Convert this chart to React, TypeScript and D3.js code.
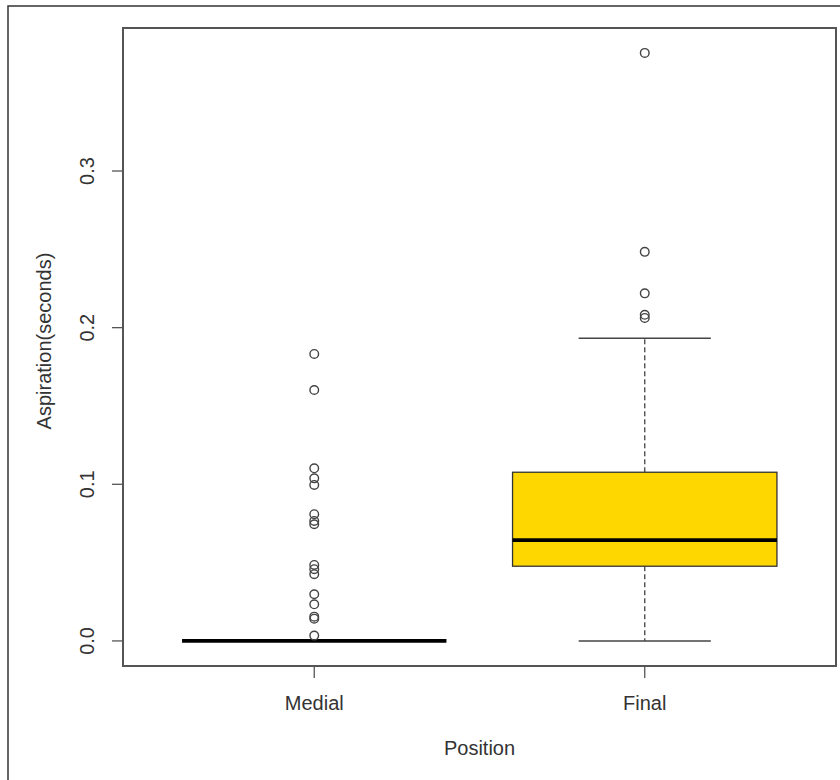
import React from "react";
import * as d3 from "d3";

// values
const categories = ["Medial", "Final"];
const lowerWhisker = [0, 0];
const q1 = [0, 0.0477];
const medians = [0, 0.0643];
const q3 = [0, 0.1077];
const upperWhisker = [0, 0.1932];
const medialOutliers = [
  0.1832, 0.1602, 0.1102, 0.1038, 0.0996, 0.0809, 0.0766, 0.0745, 0.0485,
  0.0458, 0.0426, 0.0298, 0.0234, 0.0155, 0.0142, 0.0034,
];
const finalOutliers = [0.3754, 0.2484, 0.2219, 0.2082, 0.2062];
const yTicks = [0, 0.1, 0.2, 0.3];

const W = 840,
  H = 780;
const plot = { left: 123, top: 28, right: 836, bottom: 666 };
const font = "'Liberation Sans', Arial, sans-serif";
const textColor = "#333";

export default function App() {
  const x = d3
    .scaleBand()
    .domain(categories)
    .range([149, 810])
    .paddingInner(0)
    .paddingOuter(0);
  const y = d3.scaleLinear().domain([-0.016, 0.3913]).range([plot.bottom, plot.top]);

  const half = x.bandwidth() * 0.4;
  const outliers = [medialOutliers, finalOutliers];

  return (
    <svg
      width={W}
      height={H}
      style={{ position: "absolute", left: 0, top: 0, background: "#fff" }}
      fontFamily={font}
    >
      {/* outer figure frame */}
      <rect x={8} y={6} width={W} height={H} fill="none" stroke="#333" strokeWidth={1.5} />

      {categories.map((c, i) => {
        const cx = x(c)! + x.bandwidth() / 2;
        return (
          <g key={c}>
            {/* whiskers */}
            <line x1={cx} x2={cx} y1={y(q3[i])} y2={y(upperWhisker[i])} stroke="#444" strokeWidth={1.3} strokeDasharray="5,3" />
            <line x1={cx} x2={cx} y1={y(q1[i])} y2={y(lowerWhisker[i])} stroke="#444" strokeWidth={1.3} strokeDasharray="5,3" />
            <line x1={cx - half / 2} x2={cx + half / 2} y1={y(upperWhisker[i])} y2={y(upperWhisker[i])} stroke="#444" strokeWidth={1.5} />
            <line x1={cx - half / 2} x2={cx + half / 2} y1={y(lowerWhisker[i])} y2={y(lowerWhisker[i])} stroke="#444" strokeWidth={1.5} />
            {/* box */}
            <rect
              x={cx - half}
              y={y(q3[i])}
              width={half * 2}
              height={Math.max(0, y(q1[i]) - y(q3[i]))}
              fill="#FFD700"
              stroke="#333"
              strokeWidth={1.3}
            />
            <line x1={cx - half} x2={cx + half} y1={y(medians[i])} y2={y(medians[i])} stroke="#000" strokeWidth={3.8} />
            {/* outliers */}
            {outliers[i].map((v, j) => (
              <circle key={j} cx={cx} cy={y(v)} r={4.3} fill="none" stroke="#444" strokeWidth={1.4} />
            ))}
            {/* x tick */}
            <line x1={cx} x2={cx} y1={plot.bottom} y2={plot.bottom + 12} stroke="#555" strokeWidth={1.3} />
            <text x={cx} y={710} textAnchor="middle" fontSize={20} fill={textColor}>
              {c}
            </text>
          </g>
        );
      })}

      {/* y axis ticks */}
      {yTicks.map((t) => (
        <g key={t}>
          <line x1={plot.left - 11} x2={plot.left} y1={y(t)} y2={y(t)} stroke="#555" strokeWidth={1.3} />
          <text
            transform={`translate(87,${y(t)}) rotate(-90)`}
            textAnchor="middle"
            dy="0.35em"
            fontSize={20}
            fill={textColor}
          >
            {d3.format(".1f")(t)}
          </text>
        </g>
      ))}

      {/* plot box */}
      <rect
        x={plot.left}
        y={plot.top}
        width={plot.right - plot.left}
        height={plot.bottom - plot.top}
        fill="none"
        stroke="#555"
        strokeWidth={2}
      />

      <text x={(plot.left + plot.right) / 2} y={755} textAnchor="middle" fontSize={20} fill={textColor}>
        Position
      </text>
      <text
        transform={`translate(44,341) rotate(-90)`}
        textAnchor="middle"
        dy="0.35em"
        fontSize={20}
        fill={textColor}
      >
        Aspiration(seconds)
      </text>
    </svg>
  );
}
